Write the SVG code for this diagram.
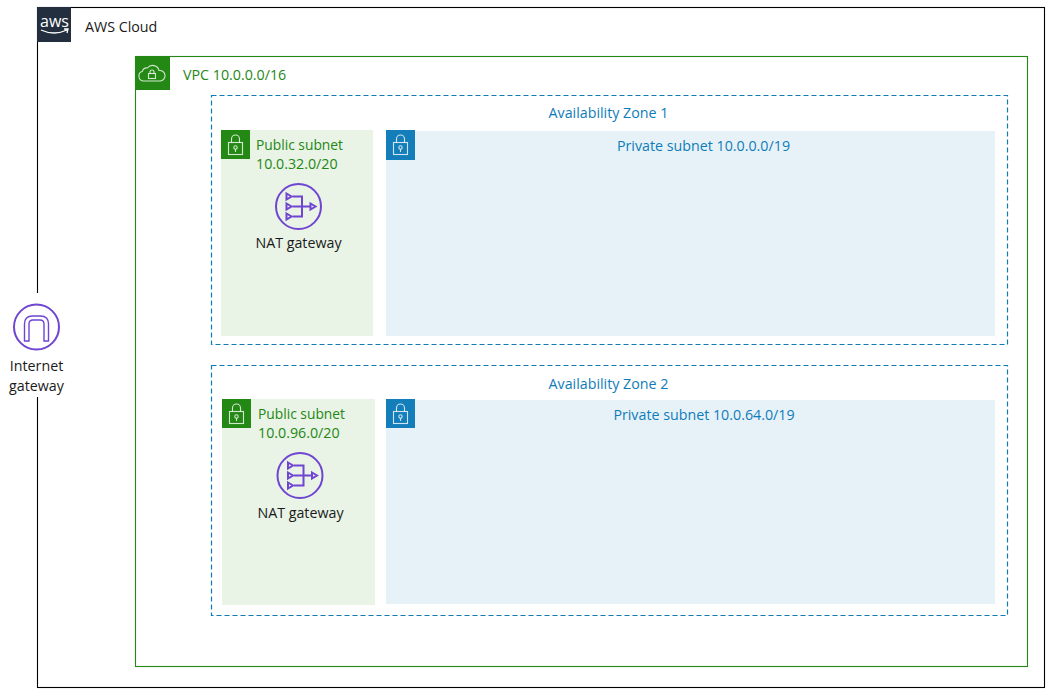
<svg xmlns="http://www.w3.org/2000/svg" width="1053" height="694" viewBox="0 0 1053 694">
<style>
text{font-family:"Open Sans","Noto Sans","Liberation Sans",sans-serif;font-size:14.25px}
.k{fill:#1a1a1a}.g{fill:#248814}.b{fill:#0f7cba}
.m{text-anchor:middle}
.s{font-size:13.800px}
.pub{fill:#e9f3e6}.pri{fill:#e6f2f8}
.gb{fill:#248814}.bb{fill:#147eba}
.ln{fill:none;stroke:#fff;stroke-width:1.100;opacity:.8}
.nat{fill:none;stroke:#6f45d1;stroke-width:2}
.az{fill:none;stroke:#0f7cba;stroke-width:1.200;stroke-dasharray:5 3}
</style>
<defs>
<g id="lock"><rect x="7.500" y="12.500" width="14" height="12" class="ln"/><path d="M10.500 12.500v-3.500a4 4 0 0 1 8 0v3.500" class="ln"/><circle cx="14.500" cy="17.500" r="1.700" class="ln"/><path d="M14.500 19.200v2.800" class="ln"/></g>
<g id="natg"><circle cx="0" cy="0" r="22.500" class="nat"/><path d="M-6-10h9.500v20h-9.500M-6 0h18" class="nat"/><path d="M-12-13l5 3-5 3zM-12-3l5 3-5 3zM-12 7l5 3-5 3zM12-3l5 3-5 3z" class="nat"/></g>
</defs>
<rect width="1053" height="694" fill="#fff"/>
<g id="aws-cloud"><rect x="37.500" y="7.500" width="1007" height="680" fill="none" stroke="#000" stroke-width="1.100"/><rect x="37" y="7" width="34" height="35" fill="#232f3e"/><text x="54.500" y="27" fill="#fff" class="m" style="font-size:16px">aws</text><path d="M41 30q13 6 26 0M64 29l4 0-1 4" fill="none" stroke="#fff" stroke-width="1.300"/><text x="85" y="32" class="k">AWS Cloud</text></g>
<g id="vpc"><rect x="135.500" y="56.500" width="892" height="610" fill="none" stroke="#248814" stroke-width="1.100"/><rect x="135" y="56" width="35" height="34" fill="#248814"/><path d="M145 81h-1a5 5 0 0 1-1.500-9.800 4.500 4.500 0 0 1 5-3.200 6.500 6.500 0 0 1 11.500 2.500 5.300 5.300 0 0 1 1.500 10.500z" class="ln"/><rect x="148.500" y="73.500" width="7" height="5" class="ln"/><path d="M150 73.500v-1.500a2 2 0 0 1 4 0v1.500" class="ln"/><text x="183" y="80" class="g">VPC 10.0.0.0/16</text></g>
<g id="az1"><rect x="211.500" y="95.500" width="796" height="249" class="az"/><text x="608.500" y="118" class="b m">Availability Zone 1</text></g>
<g id="az2"><rect x="211.500" y="365.500" width="796" height="250" class="az"/><text x="608.500" y="389" class="b m">Availability Zone 2</text></g>
<g id="pub1"><rect x="221" y="130" width="152" height="206" class="pub"/><rect x="221" y="130" width="29" height="29" class="gb"/><use href="#lock" x="221" y="130"/><text x="256" y="150" class="g s">Public subnet</text><text x="256" y="169" class="g">10.0.32.0/20</text></g>
<g id="nat1"><use href="#natg" x="298.500" y="206.500"/><text x="298.500" y="248" class="k m">NAT gateway</text></g>
<g id="pri1"><rect x="386" y="131" width="609" height="205" class="pri"/><rect x="386" y="130" width="29" height="30" class="bb"/><use href="#lock" x="386" y="130"/><text x="703.500" y="151" class="b m">Private subnet 10.0.0.0/19</text></g>
<g id="pub2"><rect x="222" y="399" width="153" height="206" class="pub"/><rect x="222" y="399" width="29" height="29" class="gb"/><use href="#lock" x="222" y="399"/><text x="258" y="419" class="g s">Public subnet</text><text x="258" y="438" class="g">10.0.96.0/20</text></g>
<g id="nat2"><use href="#natg" x="300" y="475.500"/><text x="300.500" y="518" class="k m">NAT gateway</text></g>
<g id="pri2"><rect x="386" y="400" width="609" height="204" class="pri"/><rect x="386" y="399" width="29" height="29" class="bb"/><use href="#lock" x="386" y="399"/><text x="704" y="420" class="b m">Private subnet 10.0.64.0/19</text></g>
<g id="igw"><rect x="9" y="293" width="56" height="104" fill="#fff"/><circle cx="36.500" cy="327" r="22.500" class="nat"/><path d="M24.500 341v-17c0-5 3-8 8-8h8c5 0 8 3 8 8v17h-4.500v-17c0-2.500-1.500-4-4-4h-7c-2.500 0-4 1.500-4 4v17z" class="nat" style="stroke-width:1.400"/><text x="36.500" y="371" class="k m">Internet</text><text x="36.500" y="391" class="k m">gateway</text></g>
<g id="connectors"/>
</svg>
